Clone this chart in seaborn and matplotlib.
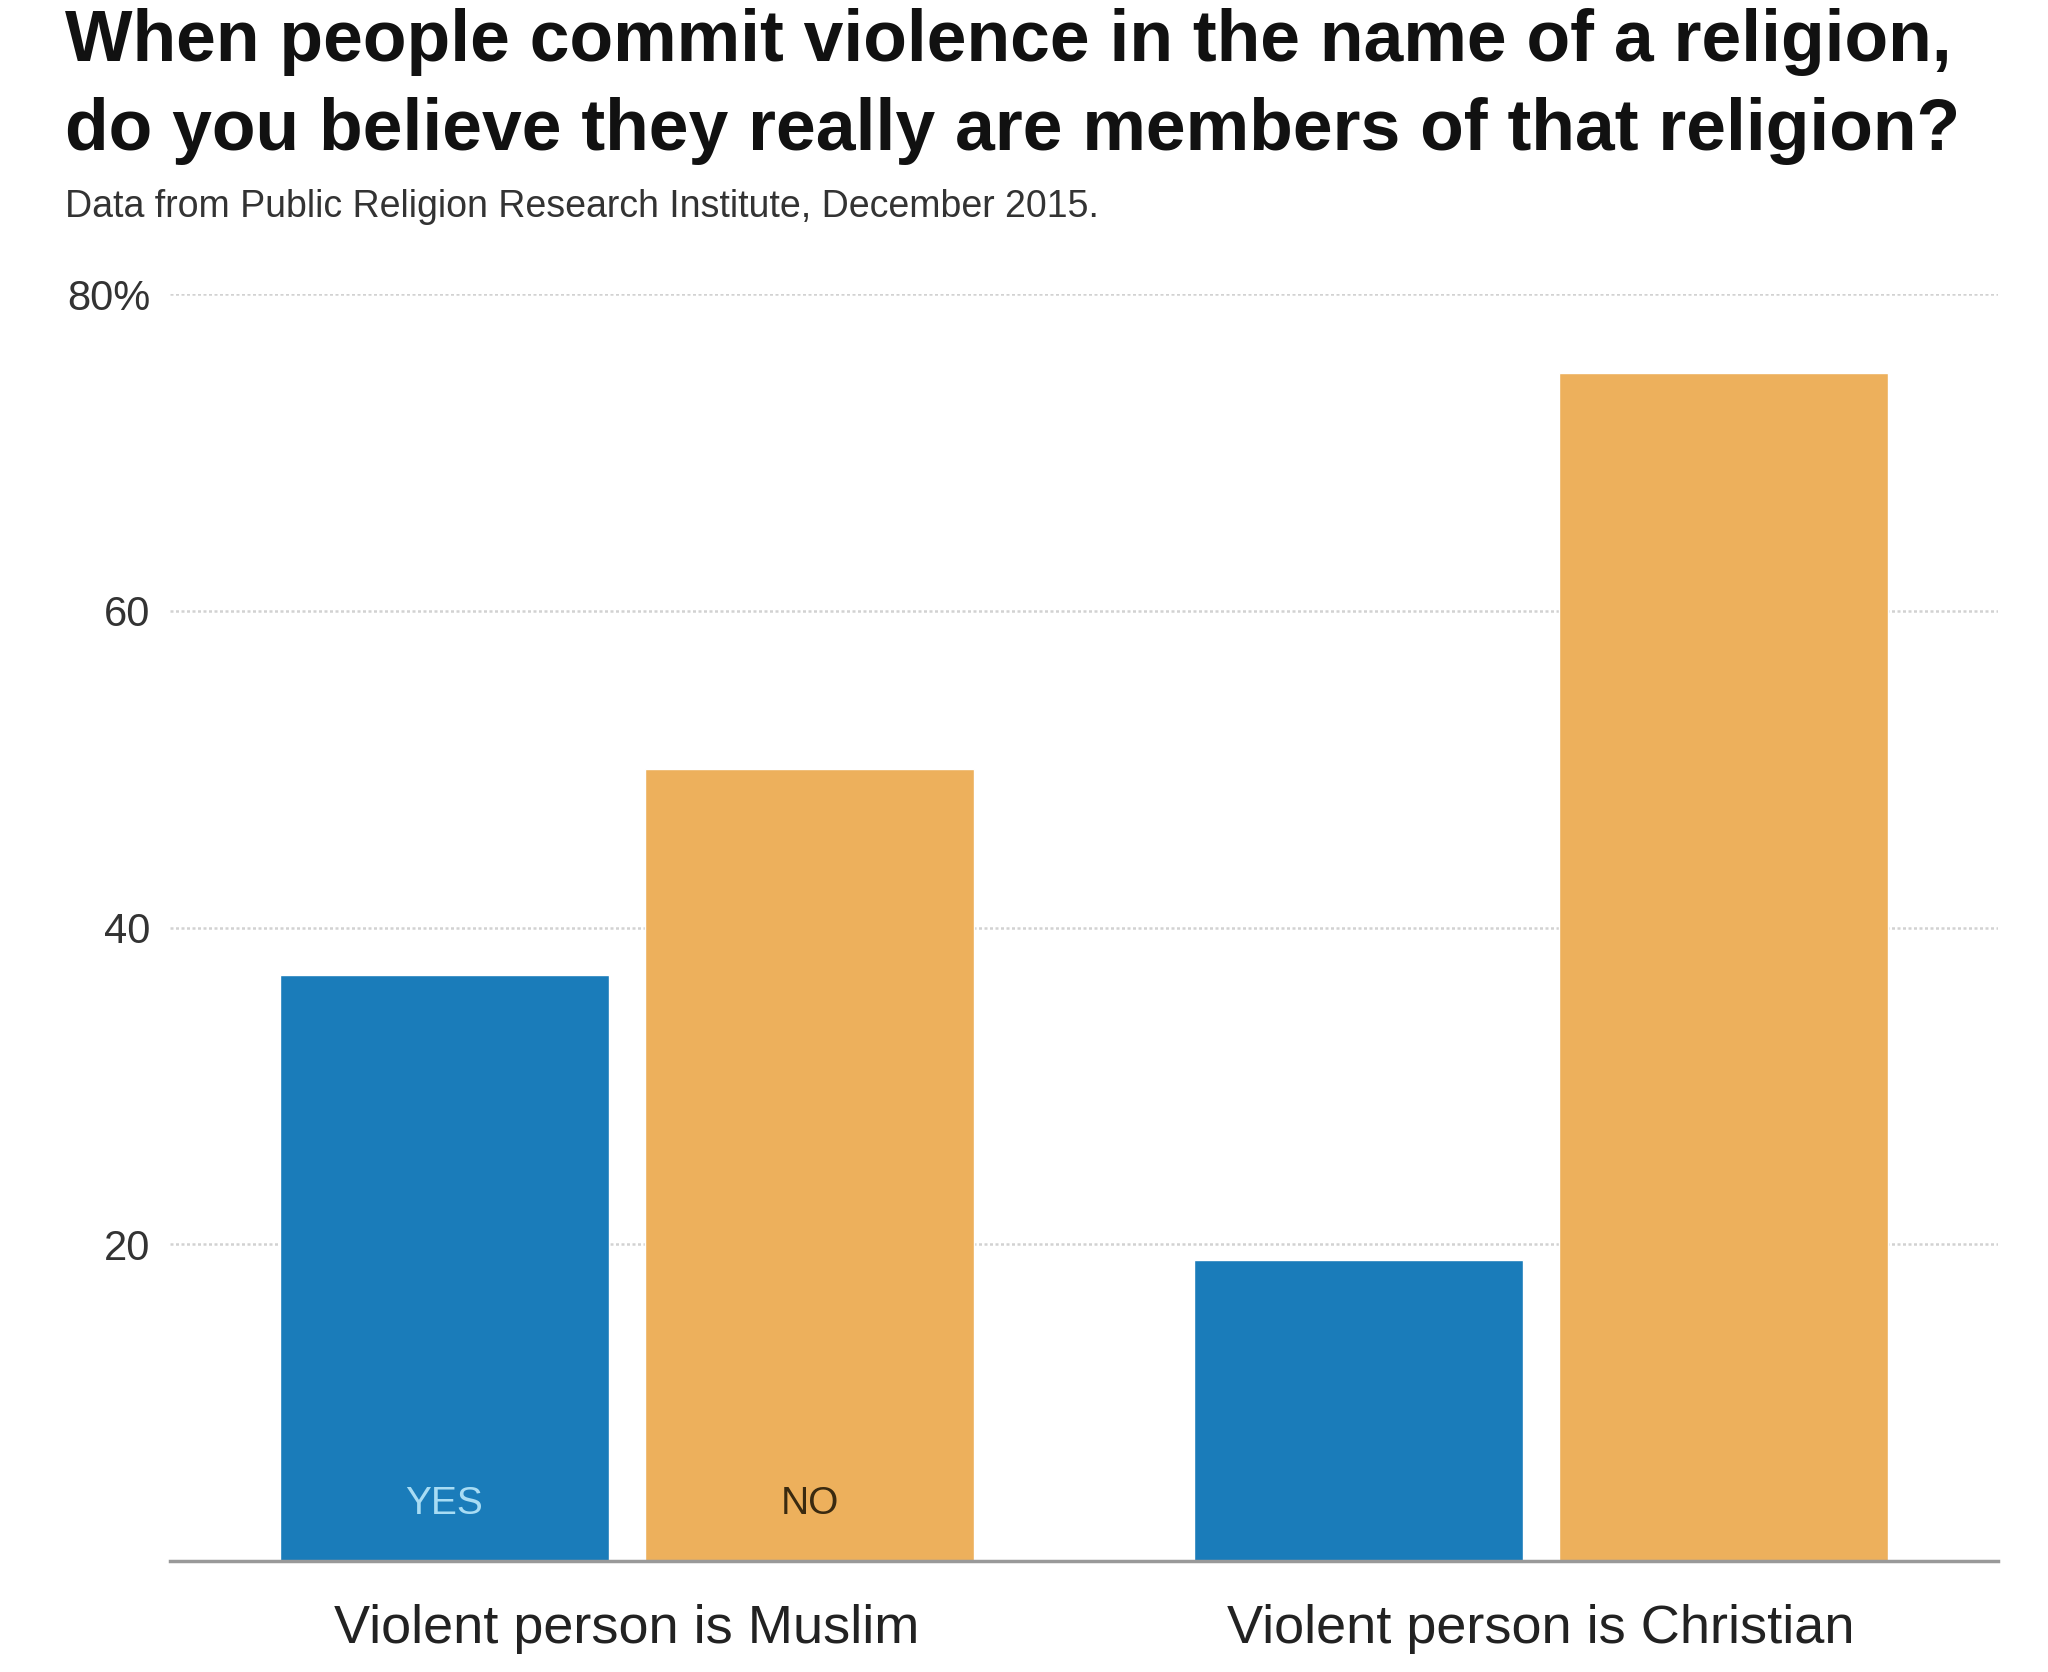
import matplotlib
matplotlib.use("Agg")
import matplotlib.pyplot as plt
import seaborn as sns
import pandas as pd
from matplotlib import font_manager

categories = ["Violent person is Muslim", "Violent person is Christian"]
answers = ["YES", "NO"]
yes_values = [37, 19]
no_values = [50, 75]
yticks = [20, 40, 60, 80]
ytick_labels = ["20", "40", "60", "80%"]
title_lines = ["When people commit violence in the name of a religion,",
               "do you believe they really are members of that religion?"]
subtitle = "Data from Public Religion Research Institute, December 2015."

df = pd.DataFrame({
    "category": categories * 2,
    "answer": [answers[0]] * 2 + [answers[1]] * 2,
    "value": yes_values + no_values,
})

sns.set_theme(style="white")
names = {f.name for f in font_manager.fontManager.ttflist}
narrow = "Liberation Sans Narrow" if "Liberation Sans Narrow" in names else "Liberation Sans"
plt.rcParams["font.family"] = [narrow, "DejaVu Sans"]

BLUE = "#1a7cba"
ORANGE = "#edb05c"

fig = plt.figure(figsize=(20.48, 16.72), dpi=100)
ax = fig.add_axes([170 / 2048, 1 - 1561 / 1672, (1998 - 170) / 2048, (1561 - 294) / 1672])

sns.barplot(data=df, x="category", y="value", hue="answer", order=categories,
            hue_order=answers, palette=[BLUE, ORANGE], width=0.8, gap=0.1,
            saturation=1, ax=ax, legend=False)

ax.set_ylim(0, 80)
ax.set_xlim(-0.5, 1.5)
ax.set_yticks(yticks)
ax.set_yticklabels(ytick_labels, fontsize=30, color="#333333")
ax.tick_params(axis="y", length=0, pad=14)
ax.tick_params(axis="x", length=0, pad=31, labelsize=39, labelcolor="#222222")
ax.set_xlabel("")
ax.set_ylabel("")
for s in ["top", "right", "left"]:
    ax.spines[s].set_visible(False)
ax.spines["bottom"].set_color("#999999")
ax.spines["bottom"].set_linewidth(2.5)
ax.set_axisbelow(True)
ax.yaxis.grid(True, color="#d2d2d2", linestyle=(0, (1.2, 1.0)), linewidth=1.8)
ax.xaxis.grid(False)

# YES / NO labels inside the first group's bars
patches = sorted(ax.patches, key=lambda p: p.get_x())
first_group = patches[:2]
label_colors = ["#a8dcf4", "#3a2a10"]
for p, lab, col in zip(first_group, answers, label_colors):
    ax.text(p.get_x() + p.get_width() / 2, 3.6, lab, ha="center", va="center",
            fontsize=28, color=col)

fig.text(65 / 2048, 1 - 61 / 1672, title_lines[0], fontsize=51.5, fontweight="bold",
         color="#111111", ha="left", va="baseline")
fig.text(65 / 2048, 1 - 150 / 1672, title_lines[1], fontsize=51.5, fontweight="bold",
         color="#111111", ha="left", va="baseline")
fig.text(65 / 2048, 1 - 217 / 1672, subtitle, fontsize=27, color="#333333",
         ha="left", va="baseline")

fig.savefig("out.png", dpi=100, facecolor="white")
